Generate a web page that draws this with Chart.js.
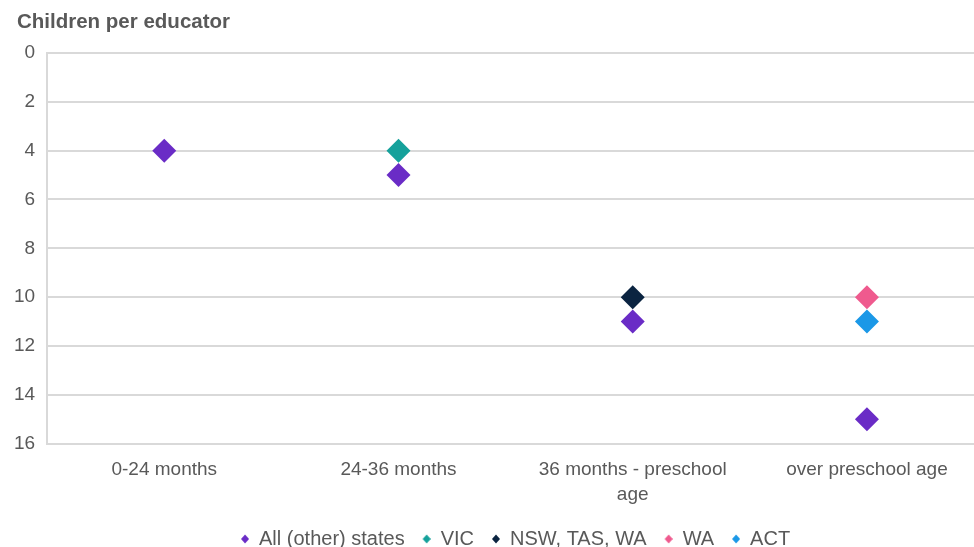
<!DOCTYPE html>
<html>
<head>
<meta charset="utf-8">
<script src="https://cdn.jsdelivr.net/npm/chart.js@4"></script>
<style>
  html, body { margin: 0; padding: 0; background: #fff; overflow: hidden; }
</style>
</head>
<body>
<canvas id="myChart" width="974" height="547"></canvas>
<script>
// categories and values
var categorias = ['0-24 months', '24-36 months', ['36 months - preschool', 'age'], 'over preschool age'];
var todos = [4, 5, 11, 15];
var vic = [null, 4, null, null];
var nswTasWa = [null, null, 10, null];
var wa = [null, null, null, 10];
var act = [null, null, null, 11];
var ticksY = [0, 2, 4, 6, 8, 10, 12, 14, 16];

var gris = '#595959';
var fuente = '"Liberation Sans", Arial, sans-serif';

// category index -> point
function puntos(valores) {
    var res = [];
    valores.forEach(function(v, i) {
        if (v !== null) res.push({ x: i, y: v });
    });
    return res;
}

// little diamond for the legend, pushed to the right of its box
function marcador(color) {
    var c = document.createElement('canvas');
    c.width = 18;
    c.height = 10;
    var g = c.getContext('2d');
    g.fillStyle = color;
    g.beginPath();
    g.moveTo(14, 0.5);
    g.lineTo(18, 5);
    g.lineTo(14, 9.5);
    g.lineTo(10, 5);
    g.closePath();
    g.fill();
    return c;
}

function serie(nombre, datos, color) {
    return {
        label: nombre,
        data: puntos(datos),
        showLine: false,
        pointStyle: 'rectRot',
        pointRadius: 12,
        pointHoverRadius: 12,
        backgroundColor: color,
        borderColor: color,
        pointBorderWidth: 0,
        marca: marcador(color)
    };
}

// title drawn at the top left, above the value axis
var tituloEje = {
    id: 'tituloEje',
    afterDraw: function(chart) {
        var c = chart.ctx;
        c.save();
        c.font = 'bold 20.5px ' + fuente;
        c.fillStyle = gris;
        c.textBaseline = 'middle';
        c.fillText('Children per educator', 17, 22);
        c.restore();
    }
};

var ctx = document.getElementById('myChart').getContext('2d');
var chart = new Chart(ctx, {
    type: 'line',
    data: {
        datasets: [
            serie('All (other) states', todos, '#6a2cc6'),
            serie('VIC', vic, '#15a19b'),
            serie('NSW, TAS, WA', nswTasWa, '#0b2441'),
            serie('WA', wa, '#ef5a8e'),
            serie('ACT', act, '#1b98e7')
        ]
    },
    options: {
        responsive: false,
        animation: false,
        layout: { autoPadding: false, padding: { top: 53, left: 2, right: 0, bottom: -12 } },
        plugins: {
            tooltip: { enabled: false },
            legend: {
                position: 'bottom',
                fullSize: false,
                labels: {
                    usePointStyle: true,
                    pointStyleWidth: 18,
                    boxHeight: 8,
                    padding: 8,
                    color: gris,
                    font: { family: fuente, size: 20 },
                    generateLabels: function(chart) {
                        var items = Chart.defaults.plugins.legend.labels.generateLabels(chart);
                        items.forEach(function(it) {
                            it.pointStyle = chart.data.datasets[it.datasetIndex].marca;
                        });
                        return items;
                    }
                }
            }
        },
        scales: {
            x: {
                type: 'linear',
                min: -0.5,
                max: 3.457,
                afterBuildTicks: function(axis) {
                    axis.ticks = categorias.map(function(c, i) { return { value: i }; });
                },
                grid: { display: false, drawTicks: false },
                border: { color: '#d9d9d9', width: 2 },
                ticks: {
                    color: gris,
                    padding: 14,
                    maxRotation: 0,
                    autoSkip: false,
                    font: { family: fuente, size: 19, lineHeight: 1.3 },
                    callback: function(v) { return categorias[v]; }
                }
            },
            y: {
                reverse: true,
                min: ticksY[0],
                max: ticksY[ticksY.length - 1],
                afterBuildTicks: function(axis) {
                    axis.ticks = ticksY.map(function(v) { return { value: v }; });
                },
                grid: { color: '#d9d9d9', lineWidth: 2, drawTicks: false },
                border: { color: '#d9d9d9', width: 2 },
                ticks: {
                    color: gris,
                    padding: 12,
                    font: { family: fuente, size: 19 }
                }
            }
        }
    },
    plugins: [tituloEje]
});
</script>
</body>
</html>
